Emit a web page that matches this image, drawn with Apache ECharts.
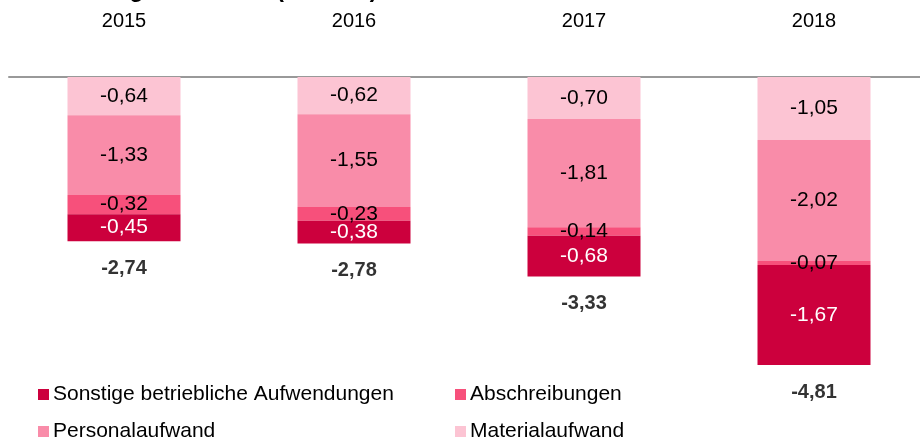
<!DOCTYPE html>
<html>
<head>
<meta charset="utf-8">
<title>Entwicklung der Kosten</title>
<script src="https://cdn.jsdelivr.net/npm/echarts@6/dist/echarts.min.js"></script>
<style>
  html, body { margin: 0; padding: 0; background: #fff; }
  #chart { width: 920px; height: 439px; }
</style>
</head>
<body>
<div id="chart"></div>
<script>
const years = ["2015", "2016", "2017", "2018"];
const material = [-0.64, -0.62, -0.70, -1.05];
const personal = [-1.33, -1.55, -1.81, -2.02];
const abschreibungen = [-0.32, -0.23, -0.14, -0.07];
const sonstige = [-0.45, -0.38, -0.68, -1.67];
const totals = [-2.74, -2.78, -3.33, -4.81];

const font = "Liberation Sans, Arial, sans-serif";
const fmt = (v) => v.toFixed(2).replace(".", ",");

const colors = {
  sonstige: "#cc003d",
  abschreibungen: "#f7507b",
  personal: "#f98ca9",
  material: "#fcc4d3",
};

const chart = echarts.init(document.getElementById("chart"));

// one legend per item so the two columns line up
const legendItem = (name, left, top) => ({
  data: [name],
  left: left,
  top: top,
  padding: 0,
  icon: "rect",
  itemWidth: 11,
  itemHeight: 11,
  itemGap: 0,
  selectedMode: false,
  textStyle: { fontFamily: font, fontSize: 21, color: "#000", padding: [0, 0, 0, -1] },
});

const stackBar = (name, data, color, labelColor) => ({
  name: name,
  type: "bar",
  stack: "kosten",
  barWidth: 113,
  data: data,
  itemStyle: { color: color },
  label: {
    show: true,
    position: "inside",
    color: labelColor,
    fontFamily: font,
    fontSize: 21,
    formatter: (p) => fmt(p.value),
  },
});

const option = {
  animation: false,
  title: {
    text: "Entwicklung der Kosten (in Mio €)",
    left: 3,
    top: -26,
    textStyle: { fontFamily: font, fontSize: 23, fontWeight: "bold", color: "#000" },
  },
  legend: [
    legendItem("Sonstige betriebliche Aufwendungen", 38, 384),
    legendItem("Abschreibungen", 455, 384),
    legendItem("Personalaufwand", 38, 421),
    legendItem("Materialaufwand", 455, 421),
  ],
  grid: { left: 9, width: 920, top: 77, bottom: 62.5, outerBoundsMode: "none" },
  xAxis: {
    type: "category",
    position: "top",
    data: years,
    axisLine: { lineStyle: { color: "#999", width: 2 } },
    axisTick: { inside: true, length: 7, lineStyle: { color: "#999", width: 2 } },
    axisLabel: { margin: 46, fontFamily: font, fontSize: 20, color: "#000" },
  },
  yAxis: {
    type: "value",
    min: -5,
    max: 0,
    show: false,
  },
  series: [
    stackBar("Materialaufwand", material, colors.material, "#000"),
    stackBar("Personalaufwand", personal, colors.personal, "#000"),
    stackBar("Abschreibungen", abschreibungen, colors.abschreibungen, "#000"),
    stackBar("Sonstige betriebliche Aufwendungen", sonstige, colors.sonstige, "#fff"),
    {
      name: "Summe",
      type: "scatter",
      symbolSize: 0,
      data: totals,
      silent: true,
      label: {
        show: true,
        position: "bottom",
        distance: 17,
        fontFamily: font,
        fontSize: 20,
        fontWeight: "bold",
        color: "#000",
        formatter: (p) => fmt(p.value),
      },
    },
  ],
};

chart.setOption(option);
</script>
</body>
</html>
